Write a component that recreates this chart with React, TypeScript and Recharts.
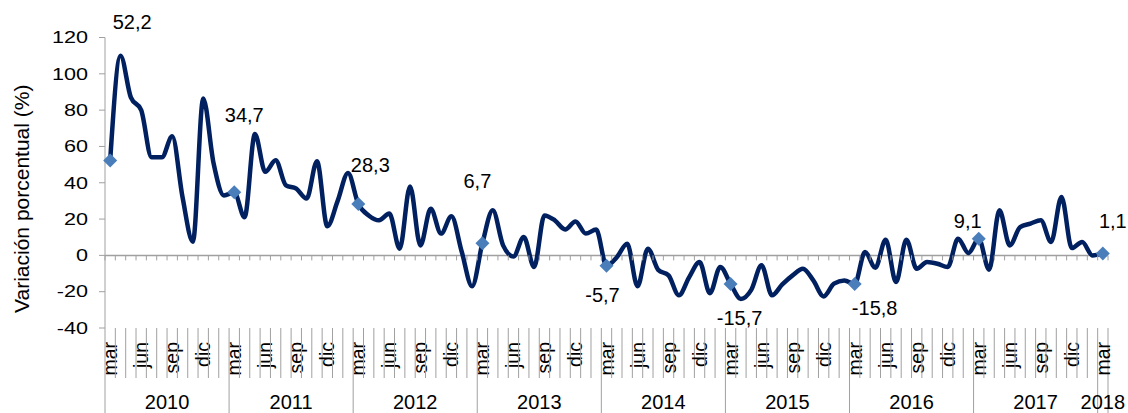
import { LineChart, Line, XAxis, YAxis, ReferenceLine, Label } from "recharts";

// monthly year-on-year variation, mar 2010 .. mar 2018
const meses = ["ene", "feb", "mar", "abr", "may", "jun", "jul", "ago", "sep", "oct", "nov", "dic"];
const grupos = ["2010", "2011", "2012", "2013", "2014", "2015", "2016", "2017", "2018"];
const variacion = [
  52.2, 110, 87, 80, 54, 54, 65.6, 32, 7.5, 86.4, 50.7, 33,
  34.7, 21, 66.8, 46, 52.4, 38.6, 36.8, 31.3, 51.9, 16, 30, 45.4,
  28.3, 22, 19.3, 23, 3.7, 38, 5.5, 25.7, 12, 21.5, 2, -17,
  6.7, 24.8, 5.5, -0.6, 10.1, -6.4, 22, 19.3, 14.3, 18.7, 12, 14.2,
  -5.7, -1, 6.4, -17, 3.7, -8, -11, -22, -12, -3.7, -20.8, -6.4,
  -15.7, -24, -19, -5.5, -22, -16, -11, -7.4, -13.8, -22.6, -15.6, -13.8,
  -15.8, 1.8, -6.8, 8.6, -14.7, 8.6, -7.4, -3.7, -4.6, -6.4, 9.2, 1.3,
  9.1, -7.9, 24.8, 5.5, 15.6, 17.5, 19.3, 7.4, 32.2, 4, 7.4, 0,
  1.1,
];
const yTicks = [-40, -20, 0, 20, 40, 60, 80, 100, 120];

const data = variacion.map((v, i) => ({
  id: `p${i}`,
  mes: meses[(i + 2) % 12],
  grupo: grupos[Math.floor(i / 12)],
  v,
}));

// label placement relative to the marked point (manual, like the original)
const labelOffsets: Record<number, [number, number]> = {
  0: [22, -132],
  12: [10, -70],
  24: [12, -32],
  36: [-5, -55],
  48: [-4, 36],
  60: [9, 41],
  72: [20, 31],
  84: [-11, -11],
  96: [10, -25],
};

const W = 1128;
const H = 413;
const LEFT = 105;
const RIGHT = 20;
const TOP = 37.5;
const BOTTOM = 85;
const Y_MIN = -40;
const Y_MAX = 120;
const plotW = W - LEFT - RIGHT;
const plotH = H - TOP - BOTTOM;
const bw = plotW / data.length;
const zeroOffset = (plotH * (0 - Y_MIN)) / (Y_MAX - Y_MIN);

const AXIS = "#a0a0a0";
const LINE = "#002060";
const MARK = "#4a7ebb";

const fmt = (v: number) => v.toFixed(1).replace(".", ",");

function YTick({ x, y, payload }: any) {
  return (
    <text transform={`translate(${x},${y}) scale(1.35,1)`} textAnchor="end" dy="0.36em" fontSize={16} fill="#000">
      {payload.value}
    </text>
  );
}

function XTick({ x, y, index }: any) {
  const d = data[index];
  if (!d) return null;
  const xb = x - bw / 2;
  const zy = y - zeroOffset;
  const first = index === 0 || data[index - 1].grupo !== d.grupo;
  const last = index === data.length - 1;
  const size = data.filter((p) => p.grupo === d.grupo).length;
  return (
    <g>
      <line x1={xb} x2={xb} y1={zy} y2={zy + 5} stroke={AXIS} />
      {last && <line x1={xb + bw} x2={xb + bw} y1={zy} y2={zy + 5} stroke={AXIS} />}
      <line x1={xb} x2={xb} y1={y} y2={y + (first ? 85 : 50)} stroke={AXIS} />
      {last && <line x1={xb + bw} x2={xb + bw} y1={y} y2={y + 85} stroke={AXIS} />}
      {index % 3 === 0 && (
        <text transform={`translate(${x + 7},${y + 14}) rotate(-90)`} textAnchor="end" fontSize={19.5} fill="#000">
          {d.mes}
        </text>
      )}
      {first && (
        <text x={xb + (size * bw) / 2} y={y + 80.5} textAnchor="middle" fontSize={20} fill="#000">
          {d.grupo}
        </text>
      )}
    </g>
  );
}

function Marker({ cx, cy, index, payload }: any) {
  if (index % 12 !== 0) return <g key={`d${index}`} />;
  const off = labelOffsets[index];
  return (
    <g key={`d${index}`}>
      <path d={`M${cx},${cy - 7}L${cx + 7},${cy}L${cx},${cy + 7}L${cx - 7},${cy}Z`} fill={MARK} />
      {off && (
        <text x={cx + off[0]} y={cy + off[1]} textAnchor="middle" fontSize={20} fill="#000">
          {fmt(payload.v)}
        </text>
      )}
    </g>
  );
}

export default function App() {
  return (
    <div style={{ position: "absolute", left: 0, top: 0, fontFamily: "'Liberation Sans', Arial, sans-serif" }}>
      <LineChart width={W} height={H} data={data} margin={{ top: TOP, right: RIGHT, left: 0, bottom: 0 }}>
        <XAxis
          dataKey="id"
          type="category"
          scale="band"
          interval={0}
          height={BOTTOM}
          axisLine={false}
          tickLine={false}
          tickSize={0}
          tickMargin={0}
          tick={<XTick />}
        />
        <YAxis
          type="number"
          domain={[Y_MIN, Y_MAX]}
          ticks={yTicks}
          width={LEFT}
          stroke={AXIS}
          tickSize={6}
          tickMargin={11}
          tick={<YTick />}
        >
          <Label
            content={(p: any) => {
              const vb = p.viewBox;
              return (
                <text
                  transform={`translate(${vb.x + 29},${vb.y + vb.height / 2 + 16}) rotate(-90)`}
                  textAnchor="middle"
                  fontSize={21}
                  fill="#000"
                >
                  Variación porcentual (%)
                </text>
              );
            }}
          />
        </YAxis>
        <ReferenceLine y={0} stroke={AXIS} strokeWidth={1.5} />
        <Line
          type="monotone"
          dataKey="v"
          stroke={LINE}
          strokeWidth={4.5}
          dot={<Marker />}
          activeDot={false}
          isAnimationActive={false}
        />
      </LineChart>
    </div>
  );
}
